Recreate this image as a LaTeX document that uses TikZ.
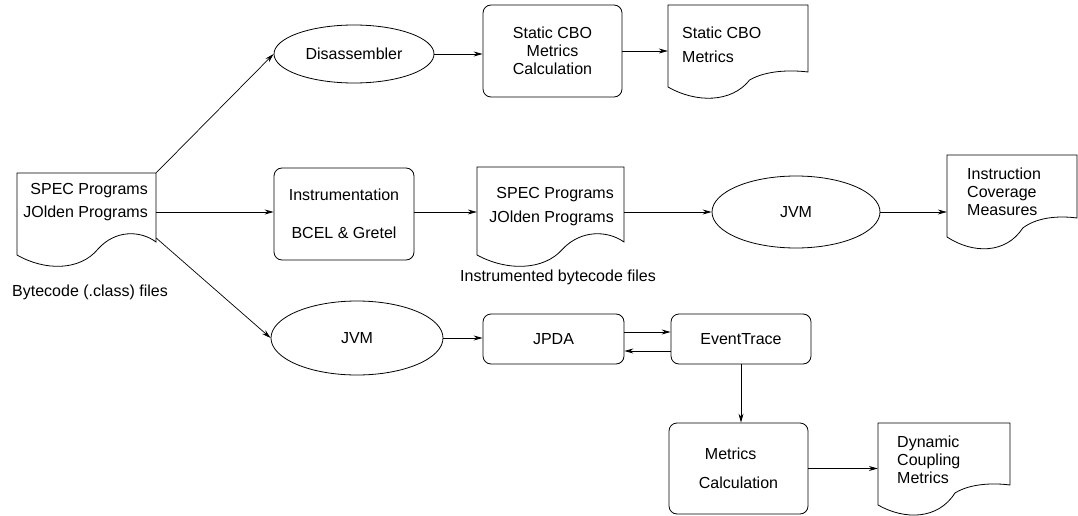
\documentclass[tikz,border=0pt]{standalone}
\usepackage{fontspec}
\setmainfont{Liberation Sans}
\usetikzlibrary{arrows.meta,shapes.geometric,calc}
\tikzset{
  box/.style={draw, rounded corners=8pt, line width=0.8pt, inner sep=0pt},
  ell/.style={draw, ellipse, line width=0.8pt, inner sep=0pt},
  anch/.style={draw=none, inner sep=0pt, rectangle},
  txt/.style={font=\fontsize{16}{18}\selectfont, inner sep=0pt},
  arr/.style={-{Stealth[length=9pt,width=5pt,inset=3pt]}, line width=0.7pt},
  docline/.style={line width=0.8pt}
}
% #1 L, #2 T, #3 R, #4 yr (right end of wave), #5 yl (left end),
% #6 crest control offset, #7 mid offset, #8 trough control offset
\newcommand\docoutline[8]{%
  \draw[docline] (#1,#2) -- (#3,#2) -- (#3,#4)
    .. controls ({#1+0.885*(#3-#1)},{#4+#6}) and ({#1+0.705*(#3-#1)},{#4+#6}) ..
    ({#1+0.583*(#3-#1)},{#4+#7})
    .. controls ({#1+0.453*(#3-#1)},{#4+#8}) and ({#1+0.2*(#3-#1)},{#4+#8}) ..
    (#1,#5) -- cycle;}
\begin{document}
\begin{tikzpicture}[x=1pt,y=-1pt]
\useasboundingbox (0,0) rectangle (1078,516);

% documents (outlines)
\docoutline{17}{173}{156}{242}{255}{-12}{7}{29}
\docoutline{477}{167}{624}{242}{255}{-12}{7}{29}
\docoutline{668}{5}{808}{72}{87}{-2}{8}{31}
\docoutline{947}{155}{1077}{218}{237}{-2}{10}{36}
\docoutline{878}{423}{1010}{485}{505}{-2}{8}{35}

% anchor nodes of documents
\node[anch, minimum width=139pt, minimum height=78pt] (src) at (86.5,212) {};
\node[anch, minimum width=147pt, minimum height=90pt] (doc2) at (550.5,212) {};
\node[anch, minimum width=140pt, minimum height=94pt] (sdoc) at (738,52) {};
\node[anch, minimum width=130pt, minimum height=116pt] (doc3) at (1012,213) {};
\node[anch, minimum width=132pt, minimum height=94pt] (dyn) at (944,470) {};

% document texts
\node[txt, align=right, anchor=east] (srct) at (148,202.5) {SPEC Programs\\[5pt]JOlden Programs};
\node[txt] (bclab) at (90,292) {Bytecode (.class) files};
\node[txt, align=right, anchor=east] (doc2t) at (614,206.5) {SPEC Programs\\[6pt]JOlden Programs};
\node[txt] (iblab) at (558,277) {Instrumented bytecode files};
\node[txt, align=left, anchor=west] (sdoct) at (682,45) {Static CBO\\[6pt]Metrics};
\node[txt, align=left, anchor=west] (doc3t) at (967,191.5) {Instruction\\Coverage\\Measures};
\node[txt, align=left, anchor=west] (dynt) at (897,459.5) {Dynamic\\Coupling\\Metrics};

% ellipses
\node[ell, minimum width=160pt, minimum height=58pt, txt] (dis) at (354,54) {Disassembler};
\node[ell, minimum width=168pt, minimum height=72pt, txt] (jvm1) at (796,212) {JVM};
\node[ell, minimum width=172pt, minimum height=74pt, txt] (jvm2) at (357,338) {JVM};

% boxes
\node[box, minimum width=139pt, minimum height=92pt, txt, align=center] (scbo) at (552.5,51) {Static CBO\\Metrics\\Calculation};
\node[box, minimum width=140pt, minimum height=92pt, txt, align=center] (instr) at (344,214) {Instrumentation\\[20pt]BCEL \& Gretel};
\node[box, minimum width=141pt, minimum height=50pt, txt] (jpda) at (553.5,339) {JPDA};
\node[box, minimum width=140pt, minimum height=50pt, txt] (et) at (741,339) {EventTrace};
\node[box, minimum width=139pt, minimum height=91pt, txt, align=left] (mc) at (738.5,468.5) {\hspace*{6pt}Metrics\\[11pt]Calculation};

% connectors
\draw[arr] (src.north east) -- (dis.west);
\draw[arr] (src.east) -- (src.east -| instr.west);
\draw[arr] ([yshift=-26pt]src.east) -- (jvm2.west);
\draw[arr] (dis.east) -- (dis.east -| scbo.west);
\draw[arr] (scbo.east) -- (scbo.east -| sdoc.west);
\draw[arr] (instr.east |- doc2.west) -- (doc2.west);
\draw[arr] (doc2.east) -- (jvm1.west);
\draw[arr] (jvm1.east) -- (jvm1.east -| doc3.west);
\draw[arr] (jvm2.east) -- (jvm2.east -| jpda.west);
\draw[arr] ([yshift=7pt]jpda.east) -- ([yshift=7pt]et.west);
\draw[arr] ([yshift=-12pt]et.west) -- ([yshift=-12pt]jpda.east);
\draw[arr] (et.south) -- (et.south |- mc.north);
\draw[arr] (mc.east) -- (mc.east -| dyn.west);
\end{tikzpicture}
\end{document}
